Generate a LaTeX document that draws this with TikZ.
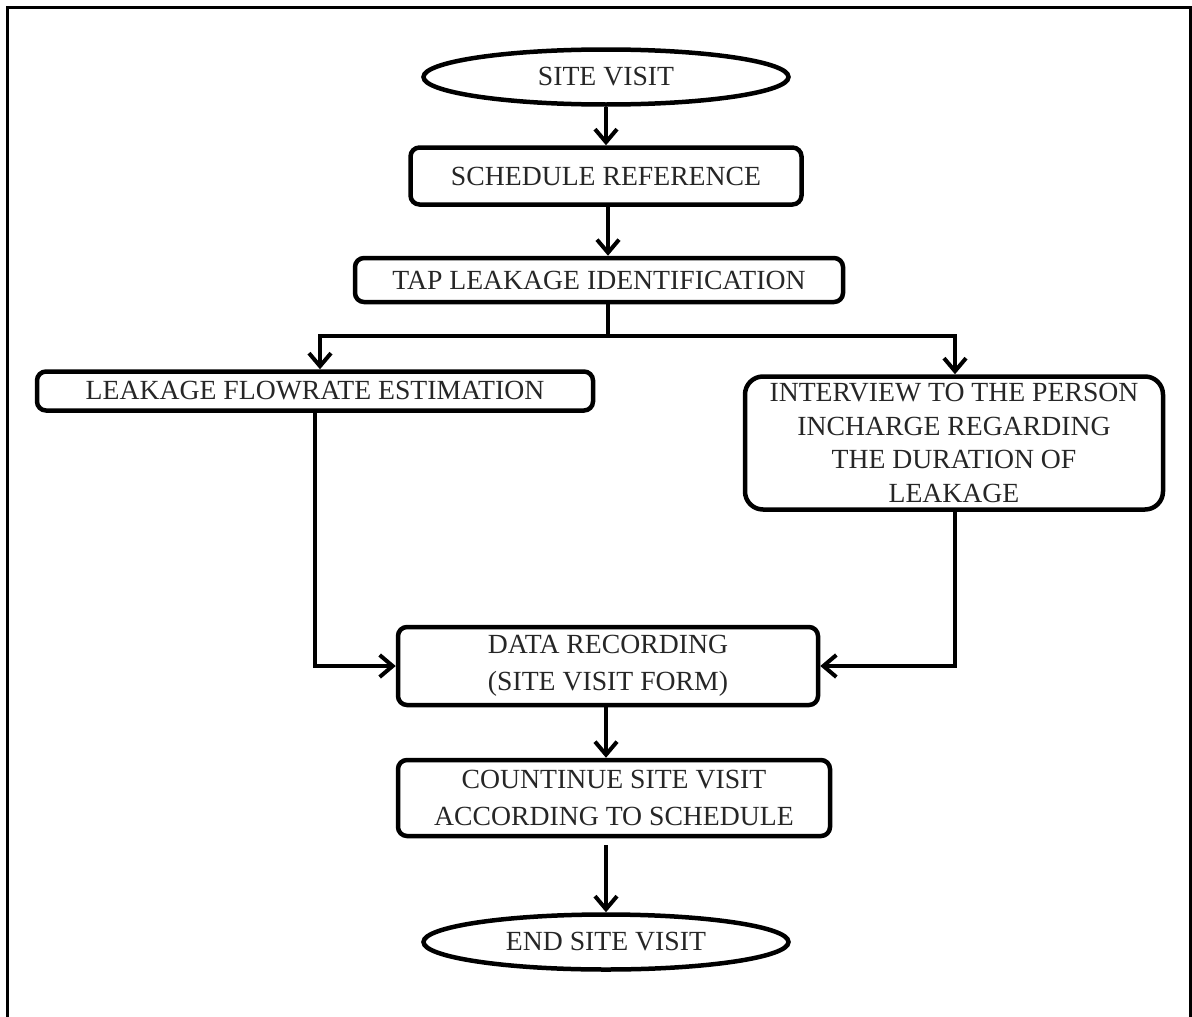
\documentclass[tikz,border=0pt]{standalone}
\usepackage{fontspec}
\setmainfont{Liberation Serif}
\usetikzlibrary{arrows.meta,shapes.geometric}
\begin{document}
\begin{tikzpicture}[x=1pt,y=-1pt,
  every node/.style={font=\fontsize{27.7}{37}\selectfont, text=black!85, inner sep=0pt, align=center},
  term/.style={draw, ellipse, line width=4.5pt, minimum width=365pt, minimum height=55pt},
  proc/.style={draw, rectangle, rounded corners=9pt, line width=4.5pt},
  conn/.style={line width=4pt, -{Straight Barb[length=13pt,width=22pt,line width=4pt]}},
  plain/.style={line width=4pt}
]
\useasboundingbox (0,0) rectangle (1192,1017);
\draw[line width=3pt] (7,1017) -- (7,7) -- (1190,7) -- (1190,1017);

\node[term] (site) at (606,77) {SITE VISIT};
\node[proc, minimum width=391pt, minimum height=57pt] (sched) at (606,176) {SCHEDULE REFERENCE};
\node[proc, minimum width=488pt, minimum height=44pt] (tap) at (599,280) {TAP LEAKAGE IDENTIFICATION};
\node[proc, minimum width=556pt, minimum height=39pt] (flow) at (315,391) {LEAKAGE FLOWRATE ESTIMATION};
\node[proc, rounded corners=18pt, minimum width=418pt, minimum height=133pt,
      font=\fontsize{27.7}{33.5}\selectfont] (inter) at (954,443)
      {INTERVIEW TO THE PERSON\\INCHARGE REGARDING\\THE DURATION OF\\LEAKAGE};
\node[proc, minimum width=420pt, minimum height=78pt] (data) at (608,666) {DATA RECORDING\\(SITE VISIT FORM)};
\node[proc, minimum width=432pt, minimum height=76pt] (cont) at (614,798) {COUNTINUE SITE VISIT\\ACCORDING TO SCHEDULE};
\node[term] (endv) at (606,942) {END SITE VISIT};

\coordinate (tapout) at (608,302);
\coordinate (split) at (608,336);
\coordinate (splitL) at (320,336);
\coordinate (splitR) at (955,336);
\coordinate (contout) at (606,845);

\draw[conn] (site.south) -- (site.south |- sched.north);
\draw[conn] (sched.south -| tapout) -- (tapout |- tap.north);
\draw[plain] (tapout |- tap.south) -- (split);
\draw[conn] (split) -| (splitL |- flow.north);
\draw[conn] (split) -| (splitR |- inter.north);
\draw[conn] (flow.south) |- (data.west);
\draw[conn] (inter.south -| splitR) |- (data.east);
\draw[conn] (data.south -| contout) -- (contout |- cont.north);
\draw[conn] (contout) -- (contout |- endv.north);
\end{tikzpicture}
\end{document}
